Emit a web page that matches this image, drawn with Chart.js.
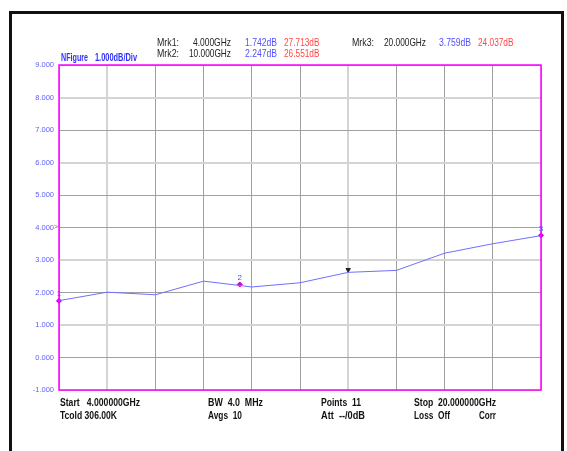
<!DOCTYPE html>
<html>
<head>
<meta charset="utf-8">
<script src="https://cdn.jsdelivr.net/npm/chart.js@4.4.0/dist/chart.umd.min.js"></script>
<style>
  html, body { margin: 0; padding: 0; background: #fff; }
  #wrap { width: 567px; height: 451px; }
</style>
</head>
<body>
<div id="wrap"><canvas id="myChart" width="567" height="451"></canvas></div>
<script>
// trace data (GHz / dB)
const freqs = [4.0, 5.6, 7.2, 8.8, 10.4, 12.0, 13.6, 15.2, 16.8, 18.4, 20.0];
const noiseFigure = [1.75, 2.01, 1.93, 2.35, 2.17, 2.30, 2.62, 2.68, 3.21, 3.50, 3.75];

// markers
const markerNames = ['1', '2', '3'];
const markerFreqs = [4.0, 10.0, 20.0];
const markerNF = [1.742, 2.247, 3.759];
const activeFreq = [13.6];
const activeNF = [2.70];

// axis
const yMin = -1;
const yMax = 9;
const xStart = 4;
const xStop = 20;
const xStep = 1.6;

// header / footer text
const headRow1 = ['Mrk1:', '4.000GHz', '1.742dB', '27.713dB'];
const headRow2 = ['Mrk2:', '10.000GHz', '2.247dB', '26.551dB'];
const headRow3 = ['Mrk3:', '20.000GHz', '3.759dB', '24.037dB'];
const footRow1 = ['Start   4.000000GHz', 'BW  4.0  MHz', 'Points  11', 'Stop  20.000000GHz'];
const footRow2 = ['Tcold 306.00K', 'Avgs  10', 'Att  --/0dB', 'Loss  Off', 'Corr'];
const scaleTitle = ['NFigure', '1.000dB/Div'];

const FONT = '"Liberation Sans", Arial, sans-serif';
const BLUE = '#5050ff';
const RED = '#ff4848';
const MAGENTA = '#ff00ff';

// light / dark grid lines like the analyzer screenshot
const lightX = [1, 6];
const lightY = [2, 4, 7, 9];

// condensed text: squeeze to the width seen on the instrument screen
function squeezed(ctx, text, x, y, width, align) {
  const w = Math.min(ctx.measureText(text).width, width);
  const left = align === 'right' ? x - w : x;
  ctx.textAlign = 'left';
  ctx.fillText(text, left, y, width);
}

const decorPlugin = {
  id: 'decor',
  beforeDraw(chart) {
    const ctx = chart.ctx;
    ctx.save();
    ctx.fillStyle = '#fff';
    ctx.fillRect(0, 0, chart.width, chart.height);
    // black frame
    ctx.fillStyle = '#111';
    ctx.fillRect(9, 11, 3, 440);
    ctx.fillRect(9, 11, 555, 3);
    ctx.fillRect(561, 11, 3, 440);
    ctx.restore();
  },
  afterDraw(chart) {
    const ctx = chart.ctx;
    const a = chart.chartArea;
    const xs = chart.scales.x;
    const ys = chart.scales.y;
    ctx.save();
    // plot border
    ctx.strokeStyle = MAGENTA;
    ctx.lineWidth = 1.5;
    ctx.strokeRect(a.left, a.top, a.right - a.left, a.bottom - a.top);

    // marker numbers
    ctx.font = '8px ' + FONT;
    ctx.fillStyle = BLUE;
    ctx.textAlign = 'center';
    ctx.textBaseline = 'bottom';
    markerNames.forEach((n, i) => {
      const px = xs.getPixelForValue(markerFreqs[i]);
      const py = ys.getPixelForValue(markerNF[i]);
      ctx.fillText(n, px, py - 3);
    });

    // reference level arrow
    ctx.fillStyle = '#666';
    ctx.font = '7px ' + FONT;
    ctx.textAlign = 'right';
    ctx.textBaseline = 'middle';
    ctx.fillText('>', a.left - 1, ys.getPixelForValue(4));

    // scale title
    ctx.textBaseline = 'middle';
    ctx.font = 'bold 10px ' + FONT;
    ctx.fillStyle = '#3030ff';
    squeezed(ctx, scaleTitle[0], 61, 58, 27);
    squeezed(ctx, scaleTitle[1], 95, 58, 42);

    // header markers
    ctx.font = '11px ' + FONT;
    const rows = [
      [headRow1, 42.5, [157, 22], [231, 38], [245, 32], [284, 35.5]],
      [headRow2, 54, [157, 22], [231, 42], [245, 32], [284, 35.5]],
      [headRow3, 42.5, [352, 22], [426, 42], [439, 32], [478, 35.5]]
    ];
    rows.forEach(([r, y, c0, c1, c2, c3]) => {
      ctx.fillStyle = '#222';
      squeezed(ctx, r[0], c0[0], y, c0[1]);
      squeezed(ctx, r[1], c1[0], y, c1[1], 'right');
      ctx.fillStyle = BLUE;
      squeezed(ctx, r[2], c2[0], y, c2[1]);
      ctx.fillStyle = RED;
      squeezed(ctx, r[3], c3[0], y, c3[1]);
    });

    // footer
    ctx.font = 'bold 11px ' + FONT;
    ctx.fillStyle = '#111';
    const f1 = [[60, 80], [208, 55], [321, 40], [414, 82]];
    footRow1.forEach((t, i) => squeezed(ctx, t, f1[i][0], 403, f1[i][1]));
    const f2 = [[60, 57], [208, 34], [321, 44], [414, 36], [479, 17]];
    footRow2.forEach((t, i) => squeezed(ctx, t, f2[i][0], 416, f2[i][1]));
    ctx.restore();
  }
};

const traceData = freqs.map((f, i) => ({ x: f, y: noiseFigure[i] }));
const markerData = markerFreqs.map((f, i) => ({ x: f, y: markerNF[i] }));
const activeData = activeFreq.map((f, i) => ({ x: f, y: activeNF[i] }));

const config = {
  type: 'line',
  data: {
    datasets: [
      {
        label: 'NFigure',
        data: traceData,
        borderColor: '#7070ff',
        borderWidth: 1,
        pointRadius: 0,
        tension: 0,
        clip: false
      },
      {
        label: 'Markers',
        data: markerData,
        showLine: false,
        pointStyle: 'rectRot',
        pointRadius: 2.5,
        pointBackgroundColor: '#d000d0',
        pointBorderColor: '#d000d0',
        clip: false
      },
      {
        label: 'Active',
        data: activeData,
        showLine: false,
        pointStyle: 'triangle',
        rotation: 180,
        pointRadius: 2.5,
        pointBackgroundColor: '#222',
        pointBorderColor: '#222',
        clip: false
      }
    ]
  },
  options: {
    responsive: false,
    animation: false,
    layout: { padding: { top: 65, right: 26, bottom: 61, left: 0 } },
    plugins: {
      legend: { display: false },
      tooltip: { enabled: false }
    },
    scales: {
      x: {
        type: 'linear',
        min: xStart,
        max: xStop,
        afterBuildTicks(scale) {
          const t = [];
          for (let i = 0; i <= 10; i++) t.push({ value: xStart + i * xStep });
          scale.ticks = t;
        },
        afterFit(scale) { scale.height = 0; },
        ticks: { display: false },
        border: { display: false },
        grid: {
          drawTicks: false,
          color: (c) => lightX.includes(c.index) ? '#d4d4d4' : '#a0a0a0',
          lineWidth: (c) => lightX.includes(c.index) ? 2 : 1
        }
      },
      y: {
        min: yMin,
        max: yMax,
        afterFit(scale) { scale.width = 59; },
        border: { display: false },
        ticks: {
          stepSize: 1,
          padding: 5,
          color: '#6060ff',
          font: { family: FONT, size: 7.5 },
          callback: (v) => v.toFixed(3)
        },
        grid: {
          drawTicks: false,
          color: (c) => lightY.includes(c.index) ? '#d4d4d4' : '#a0a0a0',
          lineWidth: (c) => lightY.includes(c.index) ? 2 : 1
        }
      }
    }
  },
  plugins: [decorPlugin]
};

const context = document.getElementById('myChart').getContext('2d');
const chart = new Chart(context, config);
</script>
</body>
</html>
